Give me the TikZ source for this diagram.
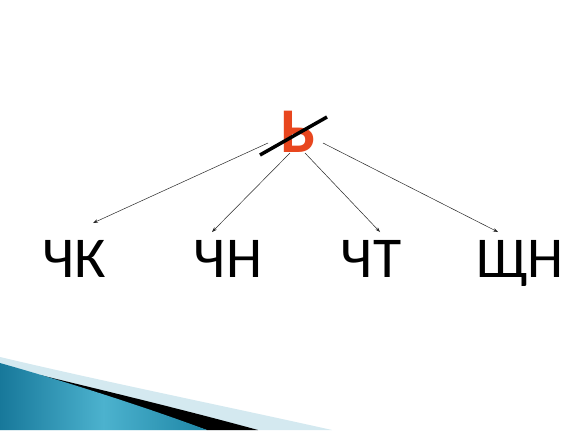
\documentclass[tikz,border=0pt]{standalone}
\usepackage{fontspec}
\setmainfont{Carlito}
\usetikzlibrary{arrows.meta}
\definecolor{sred}{HTML}{E8461E}
\definecolor{pale}{HTML}{D4E9F0}
\definecolor{tealA}{HTML}{17789A}
\definecolor{tealB}{HTML}{4CB2CE}
\definecolor{tealC}{HTML}{1E86A6}
\begin{document}
\begin{tikzpicture}[x=1bp,y=-1bp,
  lbl/.style={inner sep=0pt,anchor=base,font=\fontsize{58}{60}\selectfont,text=black},
  conn/.style={draw=black!85,line width=0.5pt,-{Stealth[length=5pt,width=3.5pt]}}]
\useasboundingbox[fill=white] (0,0) rectangle (573,430);
% bottom-left decoration
\fill[pale] (0,357) .. controls (110,383) and (220,405) .. (332,430) -- (0,430) -- cycle;
\fill[black] (40,375) .. controls (110,392) and (185,410) .. (258,430) -- (207,430) -- cycle;
\shade[left color=tealA,right color=tealC,middle color=tealB] (0,363) .. controls (60,380) and (140,405) .. (207,430) -- (0,430) -- cycle;
% main letter
\node[inner sep=0pt,anchor=base,text=sred,font=\fontsize{64}{66}\selectfont\bfseries] (b) at (298,152) {Ь};
\draw[line width=3.5pt,black] (260,155) -- (327,117);
% labels
\node[lbl] (ck) at (74,277) {ЧК};
\node[lbl] (cn) at (228,277) {ЧН};
\node[lbl] (ct) at (371,277) {ЧТ};
\node[lbl] (shn) at (520,277) {ЩН};
% connector end points
\coordinate (s1) at (268,143);
\coordinate (s2) at (290,153);
\coordinate (s3) at (305,153);
\coordinate (s4) at (323,143);
\coordinate (e1) at (93,223);
\coordinate (e2) at (212,232);
\coordinate (e3) at (380,232);
\coordinate (e4) at (498,232);
\draw[conn] (s1) -- (e1);
\draw[conn] (s2) -- (e2);
\draw[conn] (s3) -- (e3);
\draw[conn] (s4) -- (e4);
\end{tikzpicture}
\end{document}
